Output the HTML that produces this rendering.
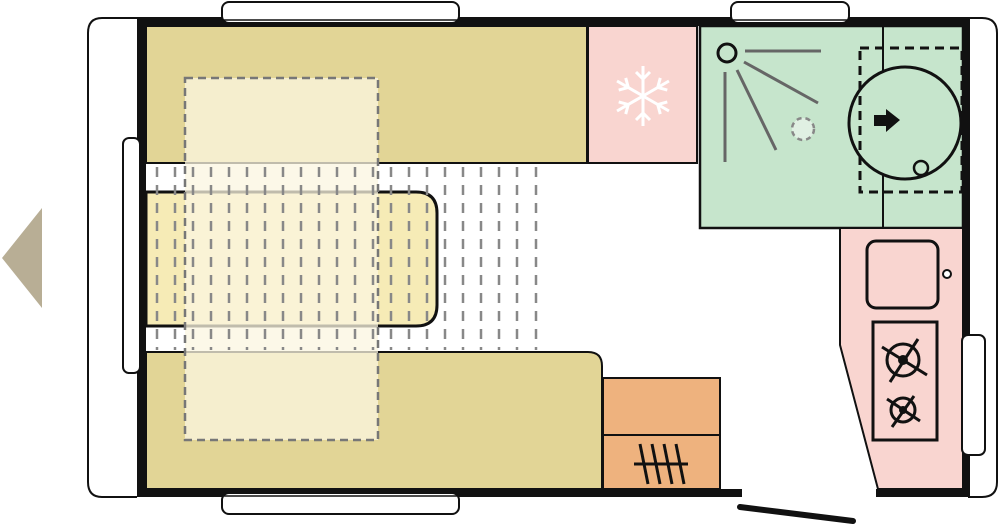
<!DOCTYPE html>
<html><head><style>body{margin:0;background:#fff}svg{display:block}</style></head><body>
<svg width="1000" height="526" viewBox="0 0 1000 526" xmlns="http://www.w3.org/2000/svg">
<polygon points="2,258 42,208 42,308" fill="#b8ae95"/>
<path d="M137,18 H102 Q88,18 88,33 V482 Q88,497 102,497 H137" fill="#fff" stroke="#111" stroke-width="2"/>
<path d="M968,18 H982 Q997,18 997,33 V482 Q997,497 982,497 H968" fill="#fff" stroke="#111" stroke-width="2"/>
<rect x="146" y="26" width="441" height="137" fill="#e2d596" stroke="#111" stroke-width="2"/>
<rect x="588" y="26" width="109" height="137" fill="#f9d5d0" stroke="#111" stroke-width="2"/>
<rect x="700" y="26" width="263" height="202" fill="#c6e5cc" stroke="#111" stroke-width="2.5"/>
<line x1="883" y1="26" x2="883" y2="228" stroke="#111" stroke-width="2"/>
<path d="M146,352 H588 Q602,352 602,366 V489 H146 Z" fill="#e2d596" stroke="#111" stroke-width="2"/>
<rect x="603" y="378" width="117" height="57" fill="#eeb27e" stroke="#111" stroke-width="2"/>
<rect x="603" y="435" width="117" height="54" fill="#eeb27e" stroke="#111" stroke-width="2"/>
<polygon points="840,228 963,228 963,489 878,489 840,345" fill="#f9d5d0" stroke="#111" stroke-width="2"/>
<path d="M146,192 H416 Q437,192 437,213 V305 Q437,326 416,326 H146 Z" fill="#f6ebb6" stroke="#111" stroke-width="3"/>
<rect x="185" y="78" width="193" height="362" fill="#fbf6e0" fill-opacity="0.75" stroke="#777" stroke-width="2.5" stroke-dasharray="8,5"/>
<g stroke="#888" stroke-width="2.5" stroke-dasharray="10,8">
<line x1="157" y1="167" x2="157" y2="350"/><line x1="175" y1="167" x2="175" y2="350"/>
<line x1="193" y1="167" x2="193" y2="350"/><line x1="211" y1="167" x2="211" y2="350"/>
<line x1="229" y1="167" x2="229" y2="350"/><line x1="247" y1="167" x2="247" y2="350"/>
<line x1="265" y1="167" x2="265" y2="350"/><line x1="283" y1="167" x2="283" y2="350"/>
<line x1="301" y1="167" x2="301" y2="350"/><line x1="319" y1="167" x2="319" y2="350"/>
<line x1="337" y1="167" x2="337" y2="350"/><line x1="355" y1="167" x2="355" y2="350"/>
<line x1="373" y1="167" x2="373" y2="350"/><line x1="391" y1="167" x2="391" y2="350"/>
<line x1="409" y1="167" x2="409" y2="350"/><line x1="427" y1="167" x2="427" y2="350"/>
<line x1="445" y1="167" x2="445" y2="350"/><line x1="463" y1="167" x2="463" y2="350"/>
<line x1="481" y1="167" x2="481" y2="350"/><line x1="499" y1="167" x2="499" y2="350"/>
<line x1="517" y1="167" x2="517" y2="350"/><line x1="536" y1="167" x2="536" y2="350"/>
</g>
<rect x="137" y="17" width="833" height="9" fill="#111"/>
<rect x="137" y="17" width="9" height="480" fill="#111"/>
<rect x="962" y="17" width="8" height="480" fill="#111"/>
<rect x="137" y="489" width="605" height="8" fill="#111"/>
<rect x="876" y="489" width="94" height="8" fill="#111"/>
<line x1="740" y1="507" x2="853" y2="521" stroke="#111" stroke-width="6" stroke-linecap="round"/>
<rect x="222" y="2" width="237" height="21" rx="7" fill="#fff" stroke="#111" stroke-width="2"/>
<line x1="224" y1="20" x2="457" y2="20" stroke="#111" stroke-width="1.5"/>
<rect x="731" y="2" width="118" height="21" rx="7" fill="#fff" stroke="#111" stroke-width="2"/>
<line x1="733" y1="20" x2="847" y2="20" stroke="#111" stroke-width="1.5"/>
<rect x="222" y="493" width="237" height="21" rx="7" fill="#fff" stroke="#111" stroke-width="2"/>
<line x1="224" y1="496" x2="457" y2="496" stroke="#111" stroke-width="1.5"/>
<rect x="123" y="138" width="17" height="235" rx="6" fill="#fff" stroke="#111" stroke-width="2"/>
<rect x="962" y="335" width="23" height="120" rx="6" fill="#fff" stroke="#111" stroke-width="2"/>
<g stroke="#fff" stroke-width="3" fill="none" transform="translate(643,96)">
<g id="arm"><line x1="0" y1="0" x2="0" y2="-30"/><polyline points="-7,-24 0,-17 7,-24"/></g>
<use href="#arm" transform="rotate(60)"/><use href="#arm" transform="rotate(120)"/><use href="#arm" transform="rotate(180)"/><use href="#arm" transform="rotate(240)"/><use href="#arm" transform="rotate(300)"/>
</g>
<circle cx="727" cy="53" r="9" fill="none" stroke="#111" stroke-width="3"/>
<g stroke="#666" stroke-width="3"><line x1="745" y1="51" x2="821" y2="51"/><line x1="744" y1="62" x2="818" y2="103"/><line x1="737" y1="70" x2="776" y2="150"/><line x1="725" y1="72" x2="725" y2="162"/></g>
<circle cx="803" cy="129" r="11" fill="#e0f0e3" stroke="#888" stroke-width="2.5" stroke-dasharray="5,4"/>
<clipPath id="bc"><rect x="700" y="26" width="262" height="202"/></clipPath>
<g clip-path="url(#bc)"><circle cx="905" cy="123" r="56" fill="#c6e5cc" stroke="#111" stroke-width="3"/></g>
<rect x="860" y="48" width="102" height="144" fill="none" stroke="#111" stroke-width="3" stroke-dasharray="9,6"/>
<circle cx="921" cy="168" r="7" fill="#c6e5cc" stroke="#111" stroke-width="2.5"/>
<polygon points="874,115 886,115 886,109 900,120 886,132 886,126 874,126" fill="#111"/>
<rect x="867" y="241" width="71" height="67" rx="9" fill="#f9d5d0" stroke="#111" stroke-width="3"/>
<circle cx="947" cy="274" r="4" fill="#fff" stroke="#111" stroke-width="2"/>
<rect x="873" y="322" width="64" height="118" fill="#f9d5d0" stroke="#111" stroke-width="3"/>
<g stroke="#111" stroke-width="3" fill="none">
<circle cx="903" cy="360" r="16"/><line x1="882" y1="347" x2="927" y2="375"/><line x1="918" y1="339" x2="890" y2="382"/>
<circle cx="903" cy="410" r="12"/><line x1="887" y1="399" x2="920" y2="421"/><line x1="914" y1="396" x2="892" y2="427"/>
</g>
<circle cx="903" cy="360" r="5" fill="#111"/><circle cx="903" cy="410" r="4" fill="#111"/>
<g stroke="#111" stroke-width="3"><line x1="634" y1="464" x2="688" y2="464"/><line x1="640" y1="444" x2="648" y2="484"/><line x1="652" y1="444" x2="660" y2="484"/><line x1="664" y1="444" x2="672" y2="484"/><line x1="676" y1="444" x2="684" y2="484"/></g>
</svg>
</body></html>
